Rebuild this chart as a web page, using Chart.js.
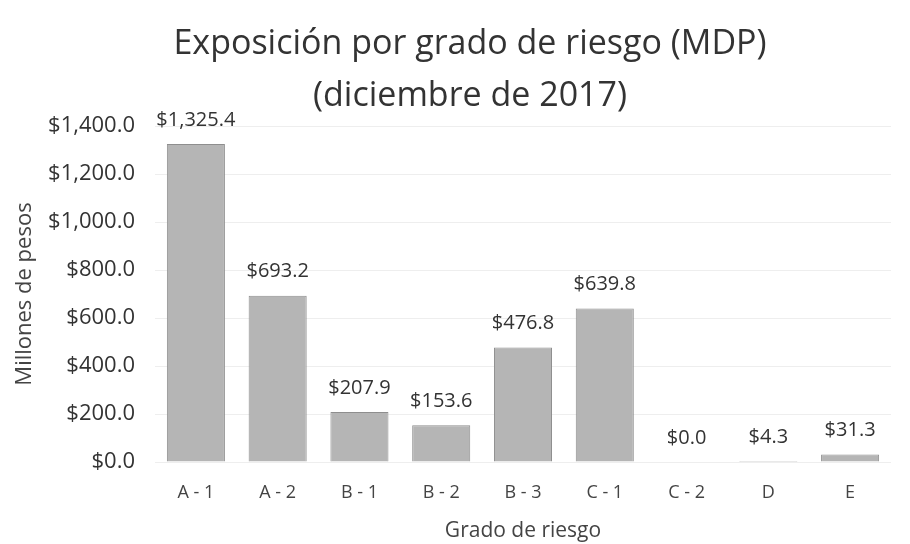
<!DOCTYPE html>
<html>
<head>
<meta charset="utf-8">
<script src="https://cdn.jsdelivr.net/npm/chart.js@4"></script>
<style>
    html, body { margin: 0; padding: 0; background: #fff; }
    #wrap { width: 910px; height: 544px; }
</style>
</head>
<body>
<div id="wrap"><canvas id="__chart_risk"></canvas></div>
<script>

const categories = [ 'A - 1', 'A - 2', 'B - 1', 'B - 2', 'B - 3', 'C - 1', 'C - 2', 'D', 'E' ];
const exposure = [ 1325.4, 693.2, 207.9, 153.6, 476.8, 639.8, 0.0, 4.3, 31.3 ];
const yTicks = [ 0, 200, 400, 600, 800, 1000, 1200, 1400 ];

const FONT = "'Open Sans', Lato, sans-serif";

const money = ( v ) => '$' + v.toLocaleString( 'en-US', { minimumFractionDigits: 1, maximumFractionDigits: 1 } );

document.addEventListener( 'DOMContentLoaded', function () {

    let ctx = document.getElementById( '__chart_risk' ).getContext( '2d' );

    /**
     * value labels above each bar
     */

    const barLabels = {
        id: 'barLabels',
        afterDatasetsDraw( chart ) {
            let c = chart.ctx;
            let meta = chart.getDatasetMeta( 0 );
            c.save();
            c.font = '20px ' + FONT;
            c.fillStyle = '#333';
            c.textAlign = 'center';
            c.textBaseline = 'middle';
            meta.data.forEach( ( bar, i ) => {
                c.fillText( money( exposure[ i ] ), bar.x, bar.y - 24 );
            } );
            c.restore();
        }
    };

    /**
     * the title in the original sits a little right of the page centre
     */

    const titleShift = {
        id: 'titleShift',
        afterLayout( chart ) {
            chart.titleBlock.left = 30;
            chart.titleBlock.right = chart.width;
        }
    };

    new Chart( ctx, {
        type: 'bar',
        data: {
            labels: categories,
            datasets: [ {
                data: exposure,
                backgroundColor: '#b5b5b5',
                borderColor: '#8e8e8e',
                borderWidth: 1,
                categoryPercentage: 1,
                barPercentage: 0.71
            } ]
        },
        plugins: [ barLabels, titleShift ],
        options: {
            responsive: true,
            maintainAspectRatio: false,
            animation: false,
            layout: { padding: { left: 4, right: 19, top: 0, bottom: 0 } },
            plugins: {
                legend: { display: false },
                tooltip: { enabled: false },
                title: {
                    display: true,
                    text: [ 'Exposición por grado de riesgo (MDP)', '(diciembre de 2017)' ],
                    color: '#333',
                    font: { family: FONT, size: 34, weight: 'normal', lineHeight: 1.53 },
                    padding: { top: 18, bottom: 4 }
                }
            },
            scales: {
                x: {
                    afterFit: ( axis ) => { axis.height = 82; },
                    grid: { display: false, drawTicks: false },
                    border: { display: false },
                    ticks: {
                        color: '#444',
                        padding: 20,
                        font: { family: FONT, size: 18 }
                    },
                    title: {
                        display: true,
                        text: 'Grado de riesgo',
                        color: '#444',
                        font: { family: FONT, size: 21 },
                        padding: { top: 4, bottom: 0 }
                    }
                },
                y: {
                    min: 0,
                    max: 1400,
                    afterFit: ( axis ) => { axis.width = 151; },
                    afterBuildTicks: ( axis ) => { axis.ticks = yTicks.map( v => ( { value: v } ) ); },
                    grid: { color: '#eeeeee', lineWidth: 1, drawTicks: false },
                    border: { display: false },
                    ticks: {
                        color: '#333',
                        padding: 20,
                        font: { family: FONT, size: 22 },
                        callback: ( value ) => money( value )
                    },
                    title: {
                        display: true,
                        text: 'Millones de pesos',
                        color: '#444',
                        font: { family: FONT, size: 22 },
                        padding: { top: 8, bottom: 4 }
                    }
                }
            }
        }
    } );

} );
</script>
</body>
</html>
